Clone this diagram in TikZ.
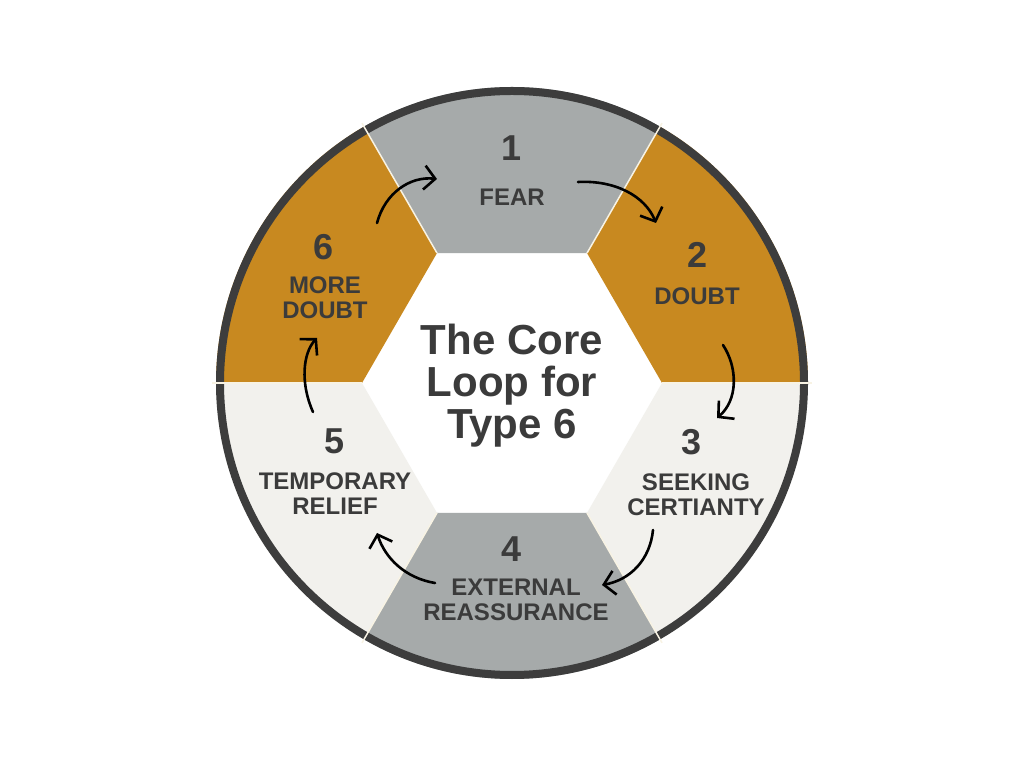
\documentclass[tikz,border=0pt]{standalone}
\usepackage{fontspec}
\setmainfont{Liberation Sans}
\usetikzlibrary{arrows.meta}
\definecolor{ringc}{HTML}{3D3D3D}
\definecolor{txtc}{HTML}{3B3B3B}
\definecolor{grayc}{HTML}{A6AAAA}
\definecolor{goldc}{HTML}{C88920}
\definecolor{lightc}{HTML}{F2F1ED}
\definecolor{sepc}{HTML}{F8F3E4}
\begin{document}
\begin{tikzpicture}[x=1pt,y=1pt,
  num/.style={font=\bfseries\fontsize{36}{36}\selectfont, text=txtc, inner sep=0pt},
  lab/.style={font=\bfseries\fontsize{24}{25}\selectfont, text=txtc, align=center, inner sep=0pt},
  ttl/.style={font=\bfseries\fontsize{42}{42}\selectfont, text=txtc, align=center, inner sep=0pt},
  loop/.style={-{Straight Barb[length=11pt,width=24pt,line width=2.6pt]}, line width=2.6pt, line cap=round, black},
]
\useasboundingbox (0,0) rectangle (1024,768);
\fill[white] (0,0) rectangle (1024,768);
\begin{scope}[shift={(512,385)}]
  \foreach \a/\c in {0/goldc,60/grayc,120/goldc,180/lightc,240/grayc,300/lightc}{
    \fill[\c] (\a:150) -- (\a+60:150) -- (\a+60:296)
      arc[start angle=\a+60, end angle=\a, radius=296] -- cycle;
  }
  \draw[ringc, line width=8pt] (0,0) circle[radius=292];
  \foreach \a in {0,60,...,300}{
    \draw[sepc, line width=1.5pt] (\a:150) -- (\a:300);
  }
\end{scope}

% title
\node[ttl] (title) at (512,382) {The Core\\Loop for\\Type 6};

% numbers and labels
\node[num] (n1) at (512,620) {1};
\node[lab] (l1) at (512,571) {FEAR};
\node[num] (n2) at (697,513) {2};
\node[lab] (l2) at (697,472) {DOUBT};
\node[num] (n3) at (691,326) {3};
\node[lab] (l3) at (696,273) {SEEKING\\CERTIANTY};
\node[num] (n4) at (512,219) {4};
\node[lab] (l4) at (516,168) {EXTERNAL\\REASSURANCE};
\node[num] (n5) at (335,327) {5};
\node[lab] (l5) at (335,274) {TEMPORARY\\RELIEF};
\node[num] (n6) at (324,521) {6};
\node[lab] (l6) at (325,470) {MORE\\DOUBT};

% arrow end points
\coordinate (a61s) at (377,545);
\coordinate (a61e) at (437,589);
\coordinate (a12s) at (578,586);
\coordinate (a12e) at (656,545);
\coordinate (a23s) at (723,423);
\coordinate (a23e) at (717,350);
\coordinate (a34s) at (653,238);
\coordinate (a34e) at (602,183);
\coordinate (a45s) at (435,185);
\coordinate (a45e) at (377,235);
\coordinate (a56s) at (313,356);
\coordinate (a56e) at (317,430);

\draw[loop] (a61s) .. controls (385,575) and (410,592) .. (a61e);
\draw[loop] (a12s) .. controls (615,588) and (645,572) .. (a12e);
\draw[loop] (a23s) .. controls (738,400) and (738,368) .. (a23e);
\draw[loop] (a34s) .. controls (650,208) and (630,188) .. (a34e);
\draw[loop] (a45s) .. controls (405,190) and (385,210) .. (a45e);
\draw[loop] (a56s) .. controls (300,385) and (303,415) .. (a56e);
\end{tikzpicture}
\end{document}
